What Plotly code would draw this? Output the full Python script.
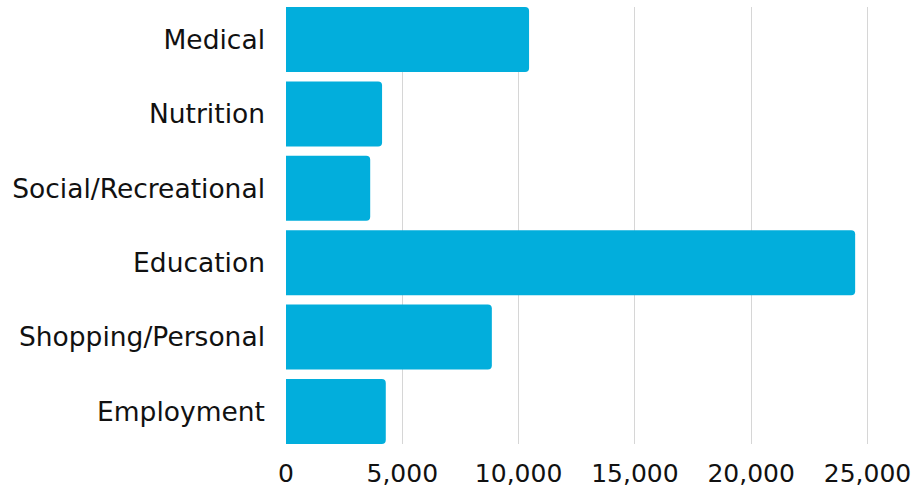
import plotly.graph_objects as go

# Trip counts by purpose
categories = ["Medical", "Nutrition", "Social/Recreational", "Education",
              "Shopping/Personal", "Employment"]
trips = [10450, 4130, 3620, 24470, 8850, 4290]
tick_values = [0, 5000, 10000, 15000, 20000, 25000]
tick_labels = ["0", "5,000", "10,000", "15,000", "20,000", "25,000"]

BAR_COLOR = "#02aedc"
FONT = "DejaVu Sans"
TEXT_COLOR = "#111111"
gap = 0.126

fig = go.Figure(
    go.Bar(
        x=trips,
        y=categories,
        orientation="h",
        marker=dict(color=BAR_COLOR, line=dict(width=0)),
        hoverinfo="x+y",
    )
)

fig.update_layout(
    width=914,
    height=489,
    margin=dict(l=286, r=0, t=7, b=45),
    paper_bgcolor="white",
    plot_bgcolor="white",
    bargap=gap,
    barcornerradius=4,
    showlegend=False,
    font=dict(family=FONT, color=TEXT_COLOR),
)

fig.update_xaxes(
    range=[0, 27000],
    tickvals=tick_values,
    ticktext=tick_labels,
    showgrid=True,
    gridcolor="#d6d6d6",
    gridwidth=1,
    zeroline=False,
    showline=False,
    ticks="",
    ticklabelstandoff=12,
    tickfont=dict(size=25, family=FONT, color=TEXT_COLOR),
    automargin=False,
    fixedrange=True,
)

fig.update_yaxes(
    categoryorder="array",
    categoryarray=categories,
    range=[len(categories) - 0.5 - gap / 2, -0.5 + gap / 2],
    showgrid=False,
    zeroline=False,
    showline=False,
    ticks="",
    ticklabelstandoff=20,
    tickfont=dict(size=26.5, family=FONT, color=TEXT_COLOR),
    automargin=False,
    fixedrange=True,
)

fig.write_html("out.html", config={"displayModeBar": False})
